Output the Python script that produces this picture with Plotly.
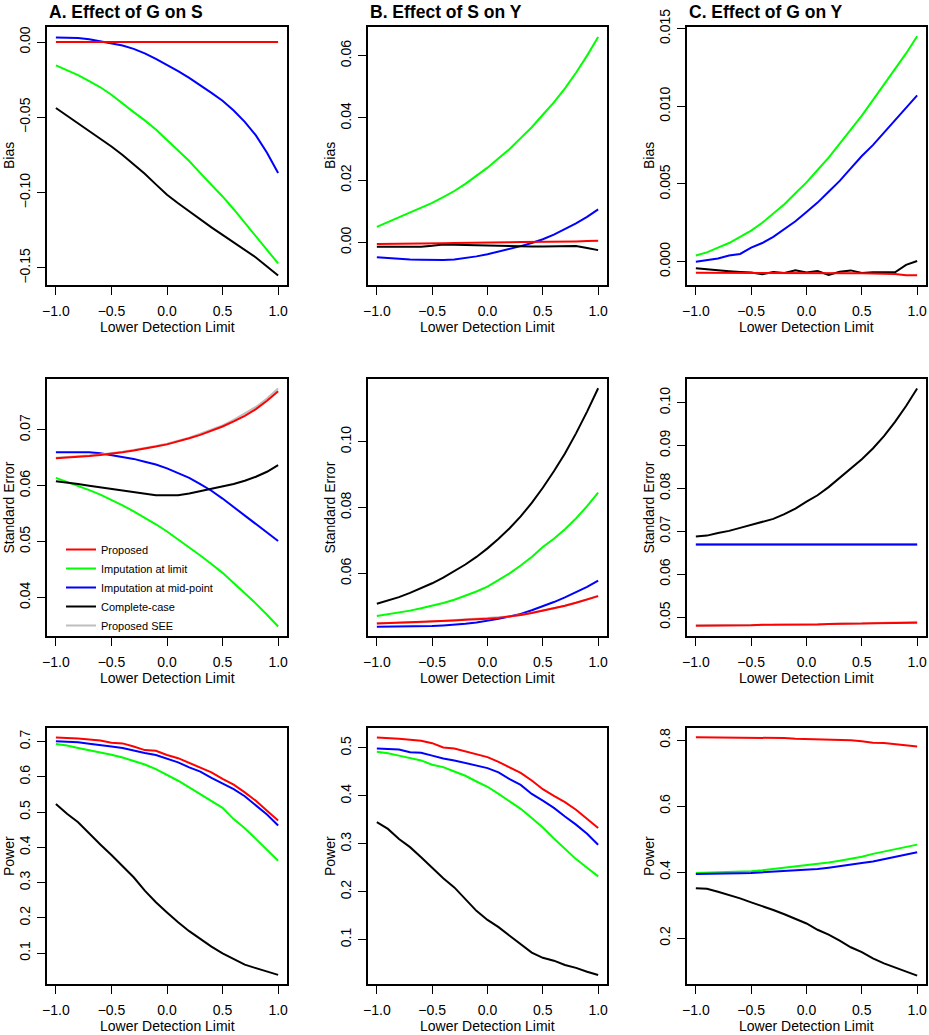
import plotly.graph_objects as go

# ---------------- data ----------------
lod = [-1.0, -0.9, -0.8, -0.7, -0.6, -0.5, -0.4, -0.3, -0.2, -0.1, 0.0,
       0.1, 0.2, 0.3, 0.4, 0.5, 0.6, 0.7, 0.8, 0.9, 1.0]

series_names = ["Proposed", "Imputation at limit", "Imputation at mid-point",
                "Complete-case", "Proposed SEE"]
series_colors = ["#FF0000", "#00FF00", "#0000FF", "#000000", "#BEBEBE"]

col_titles = ["A. Effect of G on S", "B. Effect of S on Y", "C. Effect of G on Y"]
row_titles = ["Bias", "Standard Error", "Power"]
x_title = "Lower Detection Limit"
x_ticks = [-1.0, -0.5, 0.0, 0.5, 1.0]

# Row 1: Bias
biasA_prop = [0.0000, 0.0000, 0.0000, 0.0001, 0.0000, 0.0000, 0.0001, 0.0000, 0.0000, 0.0000, -0.0001,
              0.0000, 0.0000, 0.0000, 0.0001, 0.0000, 0.0000, 0.0001, 0.0002, 0.0003, 0.0000]
biasA_limit = [-0.0155, -0.0185, -0.0220, -0.0260, -0.0300, -0.0350, -0.0410, -0.0465, -0.0520, -0.0580, -0.0650,
               -0.0720, -0.0790, -0.0870, -0.0945, -0.1025, -0.1110, -0.1200, -0.1290, -0.1380, -0.1470]
biasA_mid = [0.0030, 0.0030, 0.0027, 0.0018, 0.0006, -0.0008, -0.0023, -0.0045, -0.0075, -0.0111, -0.0151,
             -0.0193, -0.0238, -0.0286, -0.0337, -0.0390, -0.0455, -0.0530, -0.0620, -0.0735, -0.0870]
biasA_cc = [-0.0438, -0.0488, -0.0540, -0.0590, -0.0640, -0.0693, -0.0750, -0.0810, -0.0875, -0.0945, -0.1014,
            -0.1070, -0.1125, -0.1180, -0.1230, -0.1280, -0.1330, -0.1380, -0.1430, -0.1490, -0.1550]

biasB_prop = [-0.0005, -0.0005, -0.0004, -0.0004, -0.0004, -0.0003, -0.0003, -0.0002, -0.0002, -0.0001, -0.0001,
              0.0000, 0.0000, 0.0001, 0.0001, 0.0002, 0.0002, 0.0003, 0.0003, 0.0004, 0.0005]
biasB_limit = [0.0050, 0.0065, 0.0080, 0.0095, 0.0110, 0.0127, 0.0145, 0.0165, 0.0188, 0.0213, 0.0240,
               0.0270, 0.0300, 0.0335, 0.0370, 0.0410, 0.0450, 0.0495, 0.0545, 0.0600, 0.0660]
biasB_mid = [-0.0048, -0.0051, -0.0053, -0.0055, -0.0056, -0.0057, -0.0057, -0.0055, -0.0051, -0.0045, -0.0038,
             -0.0030, -0.0021, -0.0012, -0.0002, 0.0010, 0.0025, 0.0042, 0.0061, 0.0082, 0.0106]
biasB_cc = [-0.0014, -0.0014, -0.0014, -0.0014, -0.0014, -0.0011, -0.0007, -0.0008, -0.0009, -0.0010, -0.0010,
            -0.0010, -0.0011, -0.0012, -0.0013, -0.0013, -0.0013, -0.0013, -0.0012, -0.0018, -0.0025]

biasC_prop = [-0.00071, -0.00071, -0.00072, -0.00072, -0.00073, -0.00073, -0.00072, -0.00071, -0.00071, -0.00072, -0.00072,
              -0.00073, -0.00074, -0.00074, -0.00075, -0.00075, -0.00076, -0.00077, -0.00079, -0.00088, -0.00087]
biasC_limit = [0.0004, 0.0006, 0.0009, 0.0012, 0.0016, 0.0020, 0.0025, 0.0031, 0.0037, 0.0044, 0.0051,
               0.0059, 0.0067, 0.0076, 0.0085, 0.0094, 0.0104, 0.0114, 0.0124, 0.0134, 0.0145]
biasC_mid = [0.0000, 0.0001, 0.0002, 0.0004, 0.0005, 0.0009, 0.0012, 0.0016, 0.0021, 0.0026, 0.0032,
             0.0038, 0.0045, 0.0052, 0.0060, 0.0068, 0.0075, 0.0083, 0.0091, 0.0099, 0.0107]
biasC_cc = [-0.00043, -0.00050, -0.00056, -0.00061, -0.00066, -0.00070, -0.00080, -0.00067, -0.00072, -0.00056, -0.00070,
            -0.00060, -0.00086, -0.00065, -0.00056, -0.00073, -0.00068, -0.00068, -0.00068, -0.00020, 0.00004]

# Row 2: Standard error
seA_prop = [0.0649, 0.0650, 0.0651, 0.0653, 0.0655, 0.0657, 0.0660, 0.0663, 0.0666, 0.0670, 0.0674,
            0.0679, 0.0685, 0.0691, 0.0698, 0.0706, 0.0715, 0.0725, 0.0737, 0.0752, 0.0769]
seA_limit = [0.0614, 0.0607, 0.0600, 0.0592, 0.0584, 0.0575, 0.0565, 0.0554, 0.0543, 0.0531, 0.0518,
             0.0504, 0.0490, 0.0475, 0.0460, 0.0444, 0.0426, 0.0408, 0.0389, 0.0369, 0.0348]
seA_mid = [0.0660, 0.0660, 0.0660, 0.0660, 0.0658, 0.0655, 0.0652, 0.0648, 0.0643, 0.0638, 0.0631,
           0.0623, 0.0614, 0.0603, 0.0591, 0.0577, 0.0562, 0.0547, 0.0532, 0.0516, 0.0501]
seA_cc = [0.0608, 0.0606, 0.0603, 0.0600, 0.0597, 0.0594, 0.0591, 0.0588, 0.0585, 0.0583, 0.0583,
          0.0583, 0.0586, 0.0590, 0.0594, 0.0598, 0.0603, 0.0609, 0.0616, 0.0625, 0.0637]
seA_see = [0.0650, 0.0651, 0.0652, 0.0654, 0.0656, 0.0658, 0.0661, 0.0664, 0.0667, 0.0671, 0.0675,
           0.0680, 0.0686, 0.0693, 0.0700, 0.0708, 0.0718, 0.0729, 0.0741, 0.0756, 0.0774]

seB_prop = [0.0448, 0.0449, 0.0450, 0.0451, 0.0452, 0.0453, 0.0455, 0.0457, 0.0459, 0.0460, 0.0462,
            0.0465, 0.0469, 0.0474, 0.0480, 0.0487, 0.0494, 0.0502, 0.0511, 0.0521, 0.0531]
seB_limit = [0.0471, 0.0476, 0.0481, 0.0487, 0.0494, 0.0501, 0.0510, 0.0520, 0.0532, 0.0545, 0.0560,
             0.0579, 0.0600, 0.0624, 0.0650, 0.0680, 0.0705, 0.0734, 0.0767, 0.0804, 0.0845]
seB_mid = [0.0438, 0.0438, 0.0438, 0.0438, 0.0439, 0.0440, 0.0442, 0.0444, 0.0447, 0.0451, 0.0456,
           0.0462, 0.0469, 0.0477, 0.0488, 0.0500, 0.0513, 0.0527, 0.0542, 0.0559, 0.0578]
seB_cc = [0.0508, 0.0518, 0.0528, 0.0541, 0.0555, 0.0570, 0.0587, 0.0606, 0.0627, 0.0650, 0.0676,
          0.0705, 0.0737, 0.0773, 0.0814, 0.0860, 0.0910, 0.0964, 0.1025, 0.1091, 0.1162]
seB_see = [0.0449, 0.0449, 0.0450, 0.0451, 0.0452, 0.0454, 0.0455, 0.0457, 0.0459, 0.0461, 0.0463,
           0.0465, 0.0469, 0.0474, 0.0480, 0.0487, 0.0494, 0.0502, 0.0511, 0.0521, 0.0532]

seC_prop = [0.0480, 0.0480, 0.0480, 0.0481, 0.0481, 0.0481, 0.0482, 0.0482, 0.0482, 0.0483, 0.0483,
            0.0483, 0.0484, 0.0484, 0.0485, 0.0485, 0.0486, 0.0486, 0.0487, 0.0487, 0.0487]
seC_limit = [0.0669, 0.0669, 0.0669, 0.0669, 0.0669, 0.0669, 0.0669, 0.0669, 0.0669, 0.0669, 0.0669,
             0.0669, 0.0670, 0.0670, 0.0670, 0.0670, 0.0669, 0.0669, 0.0669, 0.0669, 0.0669]
seC_mid = [0.0669, 0.0669, 0.0669, 0.0669, 0.0669, 0.0669, 0.0669, 0.0669, 0.0669, 0.0669, 0.0669,
           0.0669, 0.0670, 0.0670, 0.0670, 0.0670, 0.0669, 0.0669, 0.0669, 0.0669, 0.0669]
seC_cc = [0.0688, 0.0690, 0.0696, 0.0701, 0.0708, 0.0715, 0.0722, 0.0729, 0.0740, 0.0753, 0.0769,
          0.0784, 0.0803, 0.0824, 0.0845, 0.0868, 0.0893, 0.0922, 0.0955, 0.0992, 0.1033]
seC_see = [0.0481, 0.0481, 0.0481, 0.0481, 0.0482, 0.0482, 0.0482, 0.0482, 0.0483, 0.0483, 0.0483,
           0.0484, 0.0484, 0.0485, 0.0485, 0.0486, 0.0486, 0.0487, 0.0487, 0.0488, 0.0489]

# Row 3: Power
powA_prop = [0.712, 0.711, 0.709, 0.706, 0.703, 0.697, 0.695, 0.686, 0.676, 0.674, 0.662,
             0.653, 0.640, 0.627, 0.613, 0.594, 0.578, 0.556, 0.532, 0.504, 0.476]
powA_limit = [0.693, 0.689, 0.682, 0.676, 0.670, 0.663, 0.655, 0.646, 0.635, 0.622, 0.606,
              0.589, 0.570, 0.551, 0.532, 0.512, 0.480, 0.454, 0.424, 0.392, 0.362]
powA_mid = [0.701, 0.700, 0.698, 0.694, 0.691, 0.686, 0.682, 0.674, 0.668, 0.662, 0.651,
            0.641, 0.627, 0.615, 0.597, 0.582, 0.565, 0.545, 0.518, 0.493, 0.462]
powA_cc = [0.523, 0.495, 0.471, 0.438, 0.408, 0.378, 0.345, 0.315, 0.277, 0.244, 0.215,
           0.187, 0.162, 0.140, 0.118, 0.099, 0.083, 0.067, 0.057, 0.047, 0.038]

powB_prop = [0.522, 0.521, 0.519, 0.517, 0.515, 0.510, 0.501, 0.499, 0.493, 0.486, 0.481,
             0.471, 0.460, 0.448, 0.432, 0.414, 0.400, 0.387, 0.371, 0.352, 0.333]
powB_limit = [0.492, 0.489, 0.484, 0.479, 0.474, 0.465, 0.460, 0.451, 0.442, 0.430, 0.419,
              0.404, 0.389, 0.373, 0.354, 0.334, 0.311, 0.289, 0.268, 0.250, 0.232]
powB_mid = [0.499, 0.498, 0.497, 0.491, 0.490, 0.484, 0.478, 0.474, 0.469, 0.463, 0.458,
            0.449, 0.435, 0.423, 0.404, 0.390, 0.375, 0.357, 0.340, 0.321, 0.298]
powB_cc = [0.345, 0.331, 0.310, 0.293, 0.272, 0.249, 0.228, 0.209, 0.185, 0.160, 0.141,
           0.126, 0.108, 0.091, 0.073, 0.062, 0.056, 0.047, 0.041, 0.033, 0.026]

powC_prop = [0.808, 0.808, 0.807, 0.807, 0.807, 0.806, 0.806, 0.806, 0.806, 0.804, 0.803,
             0.803, 0.803, 0.802, 0.799, 0.796, 0.792, 0.791, 0.788, 0.784, 0.780]
powC_limit = [0.397, 0.398, 0.398, 0.399, 0.400, 0.402, 0.405, 0.409, 0.412, 0.415, 0.419,
              0.424, 0.429, 0.434, 0.440, 0.446, 0.455, 0.462, 0.467, 0.475, 0.483]
powC_mid = [0.394, 0.394, 0.395, 0.395, 0.396, 0.397, 0.399, 0.400, 0.402, 0.404, 0.406,
            0.409, 0.413, 0.417, 0.422, 0.427, 0.432, 0.439, 0.445, 0.452, 0.460]
powC_cc = [0.351, 0.349, 0.340, 0.331, 0.320, 0.308, 0.297, 0.285, 0.272, 0.258, 0.244,
           0.225, 0.210, 0.192, 0.172, 0.157, 0.138, 0.123, 0.111, 0.099, 0.086]

# tick values per panel (row-major)
y_ticks = [
    [-0.15, -0.10, -0.05, 0.00], [0.00, 0.02, 0.04, 0.06], [0.000, 0.005, 0.010, 0.015],
    [0.04, 0.05, 0.06, 0.07], [0.06, 0.08, 0.10], [0.05, 0.06, 0.07, 0.08, 0.09, 0.10],
    [0.1, 0.2, 0.3, 0.4, 0.5, 0.6, 0.7], [0.1, 0.2, 0.3, 0.4, 0.5], [0.2, 0.4, 0.6, 0.8],
]
y_formats = [".2f", ".2f", ".3f", ".2f", ".2f", ".2f", ".1f", ".1f", ".1f"]
y_ranges = [
    [-0.1613, 0.0100], [-0.0137, 0.0692], [-0.0015, 0.0151],
    [0.0331, 0.0791], [0.041, 0.119], [0.0456, 0.1055],
    [0.012, 0.7387], [0.0073, 0.5417], [0.0606, 0.8364],
]

panels = [
    [biasA_prop, biasA_limit, biasA_mid, biasA_cc, None],
    [biasB_prop, biasB_limit, biasB_mid, biasB_cc, None],
    [biasC_prop, biasC_limit, biasC_mid, biasC_cc, None],
    [seA_prop, seA_limit, seA_mid, seA_cc, seA_see],
    [seB_prop, seB_limit, seB_mid, seB_cc, seB_see],
    [seC_prop, seC_limit, seC_mid, seC_cc, seC_see],
    [powA_prop, powA_limit, powA_mid, powA_cc, None],
    [powB_prop, powB_limit, powB_mid, powB_cc, None],
    [powC_prop, powC_limit, powC_mid, powC_cc, None],
]

# ---------------- layout geometry (pixels) ----------------
W, H = 929, 1035
col_px = [(47, 287), (368, 607), (687, 926)]
row_px = [(27, 285), (379, 636), (728, 984)]
FONT = "Liberation Sans, Arial, Helvetica, sans-serif"

fig = go.Figure()
layout = dict(
    width=W, height=H, autosize=False,
    margin=dict(l=0, r=0, t=0, b=0, pad=0, autoexpand=False),
    paper_bgcolor="white", plot_bgcolor="white",
    font=dict(family=FONT, size=14, color="black"),
    showlegend=True,
    legend=dict(
        x=61 / W, xanchor="left",
        y=1 - 640 / H, yanchor="bottom",
        bgcolor="rgba(0,0,0,0)", borderwidth=0,
        font=dict(family=FONT, size=11, color="black"),
        tracegroupgap=0, itemwidth=30,
    ),
)
annotations = []

# draw order inside each panel: green, blue, black, gray, red
draw_order = [1, 2, 3, 4, 0]

for p in range(9):
    r, c = divmod(p, 3)
    xa = "x" if p == 0 else f"x{p + 1}"
    ya = "y" if p == 0 else f"y{p + 1}"
    x0, x1 = col_px[c]
    y0, y1 = row_px[r]
    for k in draw_order:
        vals = panels[p][k]
        if vals is None:
            continue
        fig.add_trace(go.Scatter(
            x=lod, y=vals, mode="lines", xaxis=xa, yaxis=ya,
            line=dict(color=series_colors[k], width=2),
            name=series_names[k], legendrank=k + 1,
            showlegend=(p == 3), hoverinfo="skip",
        ))
    axis_common = dict(
        showline=True, mirror=True, linecolor="black", linewidth=1.5,
        showgrid=False, zeroline=False, ticks="outside", ticklen=8,
        tickwidth=1.2, tickcolor="black", automargin=False,
        tickfont=dict(family=FONT, size=14, color="black"),
    )
    layout["xaxis" if p == 0 else f"xaxis{p + 1}"] = dict(
        axis_common, domain=[x0 / W, x1 / W], range=[-1.08, 1.08],
        tickvals=x_ticks, tickformat=".1f", anchor=ya, ticklabelstandoff=4,
    )
    layout["yaxis" if p == 0 else f"yaxis{p + 1}"] = dict(
        axis_common, domain=[1 - y1 / H, 1 - y0 / H], range=y_ranges[p],
        tickvals=y_ticks[p], tickformat=y_formats[p], tickangle=-90, anchor=xa,
        ticklabelstandoff=2,
    )
    # axis titles
    annotations.append(dict(
        text=x_title, xref="paper", yref="paper",
        x=(x0 + x1) / 2 / W, y=1 - (y1 + 42) / H,
        xanchor="center", yanchor="middle", showarrow=False,
        font=dict(family=FONT, size=14, color="black"),
    ))
    annotations.append(dict(
        text=row_titles[r], xref="paper", yref="paper",
        x=(x0 - 38) / W, y=1 - (y0 + y1) / 2 / H,
        xanchor="center", yanchor="middle", showarrow=False, textangle=-90,
        font=dict(family=FONT, size=14, color="black"),
    ))

for c in range(3):
    annotations.append(dict(
        text="<b>" + col_titles[c] + "</b>", xref="paper", yref="paper",
        x=col_px[c][0] / W, y=1,
        xanchor="left", yanchor="top", showarrow=False,
        font=dict(family=FONT, size=17.5, color="black"),
    ))

layout["annotations"] = annotations
fig.update_layout(**layout)
fig.write_html(
    "out.html",
    config={"displayModeBar": False},
    post_script="document.body.style.margin='0px';document.body.style.padding='0px';",
)
